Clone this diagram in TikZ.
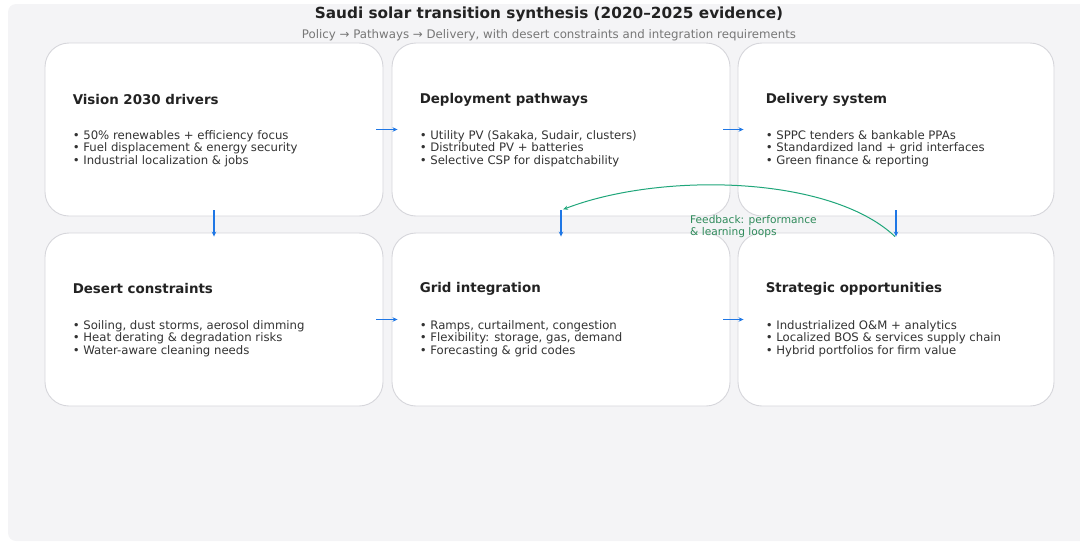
\documentclass[tikz,border=0pt]{standalone}
\usepackage{fontspec}
\setmainfont{DejaVu Sans}
\usetikzlibrary{arrows.meta,calc}

\definecolor{panelbg}{HTML}{F4F4F6}
\definecolor{boxline}{HTML}{D6D6DB}
\definecolor{flowblue}{HTML}{1F77E5}
\definecolor{loopgreen}{HTML}{1FA67A}
\definecolor{looptext}{HTML}{2E8A5A}
\definecolor{headtext}{HTML}{222222}
\definecolor{bodytext}{HTML}{333333}
\definecolor{subtext}{HTML}{777777}

\tikzset{
  card/.style={draw=boxline, line width=0.9pt, fill=white, rounded corners=24pt, inner sep=0pt},
  cardhead/.style={anchor=west, inner sep=0pt, text=headtext, font=\fontsize{13.4}{15}\selectfont\bfseries},
  cardbody/.style={anchor=west, inner sep=0pt, align=left, text=bodytext, font=\fontsize{11.7}{12.7}\selectfont},
  flow/.style={draw=flowblue, line width=1.1pt, -{Stealth[length=5pt,width=4.5pt]}}
}

\begin{document}
\begin{tikzpicture}[x=1pt, y=-1pt]
        \useasboundingbox (0,0) rectangle (1080,542);
        % Panel
        \fill[panelbg, rounded corners=8pt] (8,4) rectangle (1095,541);
        \node[text=headtext, font=\fontsize{15.3}{17}\selectfont\bfseries] (title) at (549,14) {Saudi solar transition synthesis (2020–2025 evidence)};
        \node[text=subtext, font=\fontsize{11.8}{13}\selectfont] (subtitle) at (549,35) {Policy → Pathways → Delivery, with desert constraints and integration requirements};
        % Top row
        \node[card, minimum width=338pt, minimum height=173pt] (vision) at (214,129.5) {};
        \node[card, minimum width=338pt, minimum height=173pt] (deploy) at (561,129.5) {};
        \node[card, minimum width=316pt, minimum height=173pt] (delivery) at (896,129.5) {};
        % Bottom row
        \node[card, minimum width=338pt, minimum height=173pt] (desert) at (214,319.5) {};
        \node[card, minimum width=338pt, minimum height=173pt] (grid) at (561,319.5) {};
        \node[card, minimum width=316pt, minimum height=173pt] (strategy) at (896,319.5) {};
        % Card texts
        \node[cardhead] (visionhead) at ($(vision.north west)+(28,57)$) {Vision 2030 drivers};
        \node[cardbody] (visionbody) at ($(vision.north west)+(28,106)$) {• 50\% renewables + efficiency focus\\• Fuel displacement \& energy security\\• Industrial localization \& jobs};
        \node[cardhead] (deployhead) at ($(deploy.north west)+(28,57)$) {Deployment pathways};
        \node[cardbody] (deploybody) at ($(deploy.north west)+(28,106)$) {• Utility PV (Sakaka, Sudair, clusters)\\• Distributed PV + batteries\\• Selective CSP for dispatchability};
        \node[cardhead] (deliveryhead) at ($(delivery.north west)+(28,57)$) {Delivery system};
        \node[cardbody] (deliverybody) at ($(delivery.north west)+(28,106)$) {• SPPC tenders \& bankable PPAs\\• Standardized land + grid interfaces\\• Green finance \& reporting};
        \node[cardhead] (deserthead) at ($(desert.north west)+(28,56)$) {Desert constraints};
        \node[cardbody] (desertbody) at ($(desert.north west)+(28,106)$) {• Soiling, dust storms, aerosol dimming\\• Heat derating \& degradation risks\\• Water-aware cleaning needs};
        \node[cardhead] (gridhead) at ($(grid.north west)+(28,56)$) {Grid integration};
        \node[cardbody] (gridbody) at ($(grid.north west)+(28,106)$) {• Ramps, curtailment, congestion\\• Flexibility: storage, gas, demand\\• Forecasting \& grid codes};
        \node[cardhead] (strategyhead) at ($(strategy.north west)+(28,56)$) {Strategic opportunities};
        \node[cardbody] (strategybody) at ($(strategy.north west)+(28,106)$) {• Industrialized O\&M + analytics\\• Localized BOS \& services supply chain\\• Hybrid portfolios for firm value};
        % Flow arrows
        \draw[flow] ($(vision.east)+(-7,0)$) -- ($(deploy.west)+(6,0)$);
        \draw[flow] ($(deploy.east)+(-7,0)$) -- ($(delivery.west)+(6,0)$);
        \draw[flow] ($(desert.east)+(-7,0)$) -- ($(grid.west)+(6,0)$);
        \draw[flow] ($(grid.east)+(-7,0)$) -- ($(strategy.west)+(6,0)$);
        \draw[flow] ($(vision.south)+(0,-6)$) -- ($(desert.north)+(0,4)$);
        \draw[flow] ($(deploy.south)+(0,-6)$) -- ($(grid.north)+(0,4)$);
        \draw[flow] ($(delivery.south)+(0,-6)$) -- ($(strategy.north)+(0,4)$);
        % Feedback loop
        \coordinate (loopstart) at ($(strategy.north)+(-1,4)$);
        \coordinate (loopend) at ($(deploy.south)+(2,-7)$);
        \draw[loopgreen, line width=1pt, -{Stealth[length=5pt,width=4pt]}] (loopstart) .. controls (830,175) and (660,172) .. (loopend);
        \node[anchor=west, inner sep=0pt, align=left, text=looptext, font=\fontsize{10.6}{12}\selectfont] (looplabel) at (690,227) {Feedback: performance\\\& learning loops};
\end{tikzpicture}
\end{document}
